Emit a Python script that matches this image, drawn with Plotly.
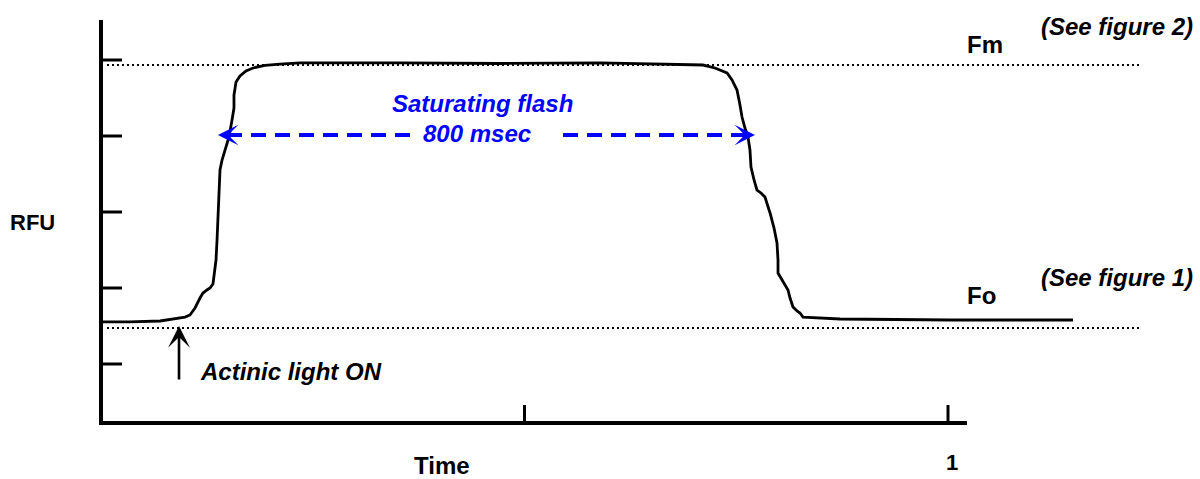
import plotly.graph_objects as go

# ---- data (x: time, 1 = one unit; y: RFU, arbitrary units) ----
time = [0.000, 0.0342, 0.0697, 0.0874, 0.0992, 0.1051, 0.1110, 0.1169, 0.1204, 0.1251,
        0.1287, 0.1322, 0.1334, 0.1358, 0.1370, 0.1381, 0.1393, 0.1405, 0.1429, 0.1464,
        0.1511, 0.1547, 0.1570, 0.1570, 0.1594, 0.1641, 0.1712, 0.1795, 0.1936, 0.2113,
        0.2349, 0.3530, 0.4711, 0.5891, 0.6836, 0.7107, 0.7249, 0.7391, 0.7450, 0.7509,
        0.7544, 0.7568, 0.7603, 0.7639, 0.7662, 0.7674, 0.7710, 0.7745, 0.7792, 0.7839,
        0.7899, 0.7946, 0.7981, 0.7993, 0.7993, 0.8040, 0.8111, 0.8135, 0.8170, 0.8217,
        0.8253, 0.8288, 0.8725, 1.0024, 1.1476]
rfu = [1.553, 1.553, 1.566, 1.592, 1.618, 1.645, 1.737, 1.868, 1.934, 1.974,
       2.000, 2.053, 2.171, 2.368, 2.632, 2.961, 3.289, 3.553, 3.684, 3.816,
       3.987, 4.211, 4.368, 4.539, 4.711, 4.789, 4.855, 4.895, 4.928, 4.947,
       4.961, 4.961, 4.954, 4.961, 4.947, 4.934, 4.895, 4.829, 4.737, 4.605,
       4.408, 4.250, 4.105, 3.987, 3.816, 3.592, 3.421, 3.289, 3.250, 3.197,
       2.987, 2.789, 2.592, 2.368, 2.197, 2.105, 1.974, 1.868, 1.750, 1.697,
       1.671, 1.618, 1.592, 1.579, 1.579]

y_ticks = [1, 2, 3, 4, 5]
x_ticks = [0.5, 1.0]
x_tick_labels = ["", "1"]
fm_level = 4.934
fo_level = 1.474
flash_start = 0.1381
flash_end = 0.7721
flash_level = 4.013
flash_gap = [0.3648, 0.5455]
actinic_on = 0.0921

# ---- scale helpers (pixel geometry of the frame) ----
X0_PX, X_UNIT = 101, 847        # x=0 at px 101, 1 unit = 847 px
Y1_PX, Y_UNIT = 364, 76         # y=1 at px 364, 1 unit = 76 px
W, H = 1200, 479
xr = [(0 - X0_PX) / X_UNIT, (W - X0_PX) / X_UNIT]
yr = [1 + (Y1_PX - H) / Y_UNIT, 1 + Y1_PX / Y_UNIT]
px = lambda p: p / X_UNIT
py = lambda p: p / Y_UNIT

x_axis_end = 1.0224
y_axis_top = 5.526
y_axis_bottom = 0.224

fig = go.Figure()

fig.add_trace(go.Scatter(x=time, y=rfu, mode="lines",
                         line=dict(color="black", width=2.8), hoverinfo="skip"))

# blue dashed double arrow (two halves around the label), dash pattern starts at the label
blue = "#0000FF"
fig.add_trace(go.Scatter(x=[flash_gap[0], flash_start + px(8)], y=[flash_level, flash_level],
                         mode="lines", line=dict(color=blue, width=4, dash="15px,9px")))
fig.add_trace(go.Scatter(x=[flash_gap[1], flash_end - px(8)], y=[flash_level, flash_level],
                         mode="lines", line=dict(color=blue, width=4, dash="15px,9px")))

shapes = []
# axes
shapes.append(dict(type="line", xref="x", yref="y", x0=0, x1=0, y0=y_axis_bottom, y1=y_axis_top,
                   line=dict(color="black", width=4)))
shapes.append(dict(type="line", xref="x", yref="y", x0=-px(2), x1=x_axis_end, y0=y_axis_bottom, y1=y_axis_bottom,
                   line=dict(color="black", width=4)))
for t in y_ticks:
    shapes.append(dict(type="line", xref="x", yref="y", x0=0, x1=px(21), y0=t, y1=t,
                       line=dict(color="black", width=3)))
for t in x_ticks:
    shapes.append(dict(type="line", xref="x", yref="y", x0=t, x1=t, y0=y_axis_bottom, y1=y_axis_bottom + py(18),
                       line=dict(color="black", width=3)))
# Fm / Fo dotted reference lines
for lvl in (fm_level, fo_level):
    shapes.append(dict(type="line", xref="x", yref="y", x0=px(6), x1=1.2267, y0=lvl, y1=lvl,
                       line=dict(color="black", width=2, dash="2px,3px")))

F = "Liberation Sans, Arial, sans-serif"
def txt(s, x, y, size=24, color="black", italic=False, xanchor="center"):
    t = f"<b><i>{s}</i></b>" if italic else f"<b>{s}</b>"
    return dict(text=t, x=x, y=y, xref="x", yref="y", showarrow=False,
                font=dict(family=F, size=size, color=color), xanchor=xanchor, yanchor="middle")

ann = []
ann.append(txt("RFU", px(32 - X0_PX), 1 + py(Y1_PX - 222), size=22))
ann.append(txt("Time", px(442 - X0_PX), 1 + py(Y1_PX - 465), size=24))
for t, lab in zip(x_ticks, x_tick_labels):
    if lab:
        ann.append(txt(lab, t + px(4), 1 + py(Y1_PX - 462), size=22))
ann.append(txt("Fm", px(985 - X0_PX), 1 + py(Y1_PX - 44), size=24))
ann.append(txt("Fo", px(981 - X0_PX), 1 + py(Y1_PX - 295), size=24))
ann.append(txt("(See figure 2)", px(1195 - X0_PX), 1 + py(Y1_PX - 26), italic=True, xanchor="right"))
ann.append(txt("(See figure 1)", px(1195 - X0_PX), 1 + py(Y1_PX - 277), italic=True, xanchor="right"))
ann.append(txt("Saturating flash", px(482 - X0_PX), 1 + py(Y1_PX - 103), color=blue, italic=True))
ann.append(txt("800 msec", px(477 - X0_PX), 1 + py(Y1_PX - 133), color=blue, italic=True))
ann.append(txt("Actinic light ON", px(198 - X0_PX), 1 + py(Y1_PX - 371), italic=True, xanchor="left"))

# arrowheads
for tip, back in ((flash_start, flash_start + px(16)), (flash_end, flash_end - px(16))):
    ann.append(dict(x=tip, y=flash_level, ax=back, ay=flash_level, xref="x", yref="y",
                    axref="x", ayref="y", text="", showarrow=True, arrowhead=3,
                    arrowsize=0.85, arrowwidth=4, arrowcolor=blue))
ann.append(dict(x=actinic_on, y=1 + py(Y1_PX - 326), ax=actinic_on, ay=1 + py(Y1_PX - 381),
                xref="x", yref="y", axref="x", ayref="y", text="", showarrow=True,
                arrowhead=3, arrowsize=1.4, arrowwidth=2.6, arrowcolor="black"))

fig.update_layout(
    width=W, height=H, autosize=False,
    margin=dict(l=0, r=0, t=0, b=0),
    paper_bgcolor="white", plot_bgcolor="white",
    showlegend=False,
    xaxis=dict(range=xr, visible=False, fixedrange=True),
    yaxis=dict(range=yr, visible=False, fixedrange=True),
    shapes=shapes, annotations=ann,
)

fig.write_html("out.html", config={"displayModeBar": False},
               post_script="document.body.style.margin='0';document.body.style.overflow='hidden';")
